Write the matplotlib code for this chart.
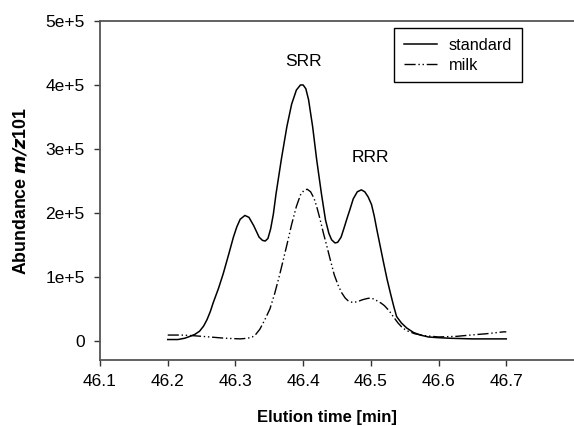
import matplotlib
matplotlib.use("Agg")
import matplotlib.pyplot as plt
import numpy as np

plt.rcParams['font.family'] = ['Liberation Sans', 'DejaVu Sans']

# Elution time [min] and abundance (in units of 1e5)
std_time = [46.200, 46.215, 46.225, 46.233, 46.240, 46.247, 46.253, 46.258, 46.263,
            46.267, 46.275, 46.282, 46.290, 46.297, 46.302, 46.307, 46.314, 46.320,
            46.327, 46.335, 46.340, 46.344, 46.348, 46.352, 46.356, 46.360, 46.368,
            46.376, 46.383, 46.390, 46.396, 46.400, 46.404, 46.408, 46.414, 46.420,
            46.427, 46.433, 46.438, 46.442, 46.447, 46.451, 46.456, 46.460, 46.465,
            46.469, 46.474, 46.480, 46.486, 46.491, 46.496, 46.501, 46.505, 46.509,
            46.514, 46.519, 46.524, 46.529, 46.534, 46.538, 46.545, 46.553, 46.563,
            46.573, 46.585, 46.598, 46.617, 46.650, 46.700]
std_abund = [0.02, 0.02, 0.04, 0.07, 0.10, 0.15, 0.23, 0.33, 0.46,
             0.59, 0.82, 1.05, 1.35, 1.62, 1.78, 1.90, 1.96, 1.93,
             1.80, 1.62, 1.57, 1.56, 1.60, 1.75, 1.98, 2.30, 2.85,
             3.35, 3.70, 3.92, 4.00, 4.00, 3.94, 3.77, 3.35, 2.83,
             2.30, 1.89, 1.68, 1.58, 1.53, 1.54, 1.62, 1.75, 1.92,
             2.05, 2.22, 2.33, 2.36, 2.33, 2.25, 2.13, 1.95, 1.73,
             1.47, 1.21, 0.96, 0.74, 0.53, 0.38, 0.28, 0.20, 0.13,
             0.09, 0.06, 0.05, 0.04, 0.03, 0.03]

milk_time = [46.200, 46.220, 46.238, 46.262, 46.285, 46.307, 46.318, 46.325, 46.330,
             46.336, 46.343, 46.351, 46.358, 46.365, 46.371, 46.376, 46.383, 46.390,
             46.396, 46.401, 46.406, 46.411, 46.416, 46.420, 46.425, 46.430, 46.435,
             46.440, 46.446, 46.452, 46.457, 46.462, 46.467, 46.473, 46.480, 46.487,
             46.494, 46.500, 46.505, 46.510, 46.515, 46.520, 46.527, 46.533, 46.540,
             46.547, 46.555, 46.565, 46.580, 46.600, 46.627, 46.647, 46.670, 46.696,
             46.700]
milk_abund = [0.09, 0.09, 0.08, 0.06, 0.04, 0.03, 0.04, 0.06, 0.10,
              0.18, 0.32, 0.50, 0.74, 1.02, 1.28, 1.50, 1.82, 2.10,
              2.28, 2.35, 2.37, 2.33, 2.23, 2.10, 1.90, 1.68, 1.48,
              1.27, 1.03, 0.86, 0.75, 0.67, 0.62, 0.60, 0.61, 0.64,
              0.66, 0.67, 0.65, 0.62, 0.59, 0.55, 0.47, 0.38, 0.28,
              0.20, 0.15, 0.11, 0.08, 0.06, 0.07, 0.09, 0.11, 0.14,
              0.14]

x_ticks = [46.1, 46.2, 46.3, 46.4, 46.5, 46.6, 46.7]
y_ticks = [0, 1e5, 2e5, 3e5, 4e5, 5e5]
y_tick_labels = ['0', '1e+5', '2e+5', '3e+5', '4e+5', '5e+5']
peak_labels = ['SRR', 'RRR']
peak_pos = [(46.40, 4.37e5), (46.50, 2.87e5)]

fig = plt.figure(figsize=(5.74, 4.26), dpi=100)
ax = fig.add_axes([100/574, 1-360/426, 1-100/574, (360-21)/426])

scale = 1e5
ax.plot(std_time, np.array(std_abund)*scale, color='black', lw=1.1, label='standard')
ax.plot(milk_time, np.array(milk_abund)*scale, color='black', lw=1.0,
        linestyle=(0, (8, 2, 1, 2, 1, 2)), label='milk')

ax.set_xlim(46.1, 46.8)
ax.set_ylim(-0.3e5, 5e5)
ax.set_xticks(x_ticks)
ax.set_xticklabels([f'{t:.1f}' for t in x_ticks])
ax.set_yticks(y_ticks)
ax.set_yticklabels(y_tick_labels)

ax.spines['right'].set_visible(False)
for s in ['left', 'bottom', 'top']:
    ax.spines[s].set_color('#555555')
    ax.spines[s].set_linewidth(1.3)

ax.tick_params(axis='both', direction='out', length=4, width=1, color='#333333',
               labelsize=12.5, labelcolor='black')
ax.tick_params(axis='y', pad=7)
ax.tick_params(axis='x', pad=6)

for lab, (px, py) in zip(peak_labels, peak_pos):
    ax.text(px, py, lab, ha='center', va='center', fontsize=12.5)

ax.set_xlabel('Elution time [min]', fontsize=12, fontweight='bold')
ax.xaxis.set_label_coords((327-100)/474, -(410-360)/339)
ax.set_ylabel(r'Abundance $\bfit{m/z}$101', fontsize=12.8, fontweight='bold')
ax.yaxis.set_label_coords(-(100-30)/474, 0.5)

leg = ax.legend(loc='upper right', bbox_to_anchor=(522/574, 1-28/426),
                bbox_transform=fig.transFigure, fontsize=11.7, fancybox=False,
                framealpha=1, edgecolor='black', handlelength=2.0,
                borderpad=0.6, labelspacing=0.3, handletextpad=0.75,
                borderaxespad=0)
leg.get_frame().set_linewidth(1.0)

fig.savefig('out.png', dpi=100)
